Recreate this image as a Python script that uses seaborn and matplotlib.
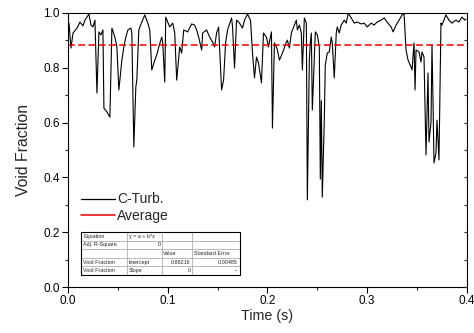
import numpy as np
import pandas as pd
import matplotlib
matplotlib.use("Agg")
import matplotlib.pyplot as plt
from matplotlib.lines import Line2D
from matplotlib.ticker import MultipleLocator
import seaborn as sns

# ---- data ----
time_s = [0.001, 0.003, 0.005, 0.009, 0.012, 0.015, 0.017, 0.021, 0.023, 0.025,
          0.027, 0.029, 0.031, 0.033, 0.035, 0.036, 0.039, 0.042, 0.044, 0.047,
          0.049, 0.051, 0.054, 0.056, 0.058, 0.060, 0.063, 0.064, 0.066, 0.068,
          0.069, 0.071, 0.074, 0.077, 0.080, 0.082, 0.084, 0.087, 0.089, 0.091,
          0.094, 0.095, 0.097, 0.098, 0.100, 0.102, 0.105, 0.107, 0.109, 0.112,
          0.114, 0.116, 0.120, 0.124, 0.127, 0.129, 0.131, 0.134, 0.135, 0.139,
          0.142, 0.145, 0.147, 0.149, 0.151, 0.154, 0.156, 0.158, 0.160, 0.164,
          0.165, 0.167, 0.169, 0.172, 0.175, 0.177, 0.180, 0.183, 0.185, 0.187,
          0.189, 0.191, 0.194, 0.196, 0.199, 0.201, 0.203, 0.204, 0.205, 0.207,
          0.209, 0.210, 0.212, 0.215, 0.219, 0.220, 0.222, 0.224, 0.227, 0.229,
          0.230, 0.232, 0.234, 0.235, 0.237, 0.239, 0.240, 0.242, 0.243, 0.244,
          0.245, 0.248, 0.250, 0.252, 0.253, 0.254, 0.255, 0.257, 0.258, 0.260,
          0.262, 0.264, 0.265, 0.267, 0.269, 0.270, 0.272, 0.274, 0.277, 0.279,
          0.281, 0.284, 0.287, 0.290, 0.294, 0.297, 0.300, 0.304, 0.307, 0.310,
          0.314, 0.317, 0.320, 0.324, 0.326, 0.329, 0.332, 0.335, 0.337, 0.339,
          0.341, 0.344, 0.345, 0.347, 0.348, 0.349, 0.352, 0.354, 0.355, 0.357,
          0.359, 0.361, 0.362, 0.364, 0.365, 0.366, 0.367, 0.369, 0.370, 0.372,
          0.374, 0.375, 0.379, 0.382, 0.385, 0.389, 0.392, 0.395, 0.398, 0.399]
void_fraction = [0.963, 0.872, 0.927, 0.945, 0.967, 0.953, 0.974, 0.996, 0.956, 0.949,
                 0.974, 0.708, 0.931, 0.920, 0.938, 0.653, 0.639, 0.620, 0.945, 0.912,
                 0.876, 0.719, 0.828, 0.876, 0.912, 0.938, 0.945, 0.927, 0.511, 0.730,
                 0.755, 0.938, 0.967, 0.993, 0.963, 0.938, 0.792, 0.828, 0.847, 0.876,
                 0.912, 0.891, 0.748, 0.985, 0.967, 0.949, 0.963, 0.927, 0.755, 0.876,
                 0.854, 0.938, 0.931, 0.960, 0.956, 0.938, 0.912, 0.865, 0.927, 0.938,
                 0.912, 0.894, 0.876, 0.927, 0.949, 0.719, 0.755, 0.891, 0.938, 0.982,
                 0.949, 0.799, 0.974, 0.963, 0.945, 0.974, 0.996, 0.974, 0.854, 0.763,
                 0.839, 0.818, 0.745, 0.927, 0.912, 0.876, 0.912, 0.931, 0.580, 0.891,
                 0.876, 0.865, 0.828, 0.854, 0.894, 0.901, 0.872, 0.927, 0.956, 0.974,
                 0.938, 0.956, 0.927, 0.792, 0.982, 0.963, 0.318, 0.828, 0.891, 0.927,
                 0.646, 0.931, 0.920, 0.876, 0.394, 0.680, 0.328, 0.610, 0.810, 0.854,
                 0.858, 0.912, 0.891, 0.763, 0.927, 0.949, 0.927, 0.956, 0.974, 0.963,
                 1.000, 0.982, 0.963, 0.967, 0.960, 0.963, 0.949, 0.963, 0.956, 0.967,
                 0.974, 0.982, 0.967, 0.949, 0.931, 0.956, 0.974, 0.993, 0.996, 0.865,
                 0.828, 0.803, 0.792, 0.891, 0.719, 0.865, 0.858, 0.821, 0.858, 0.839,
                 0.482, 0.781, 0.529, 0.599, 0.883, 0.682, 0.453, 0.489, 0.609, 0.464,
                 0.963, 0.956, 0.993, 0.974, 0.963, 0.974, 0.967, 0.985, 0.974, 0.978]
avg_time = [0.0, 0.4]
avg_value = [0.88216, 0.88216]

table_rows = [["Equation", "y = a + b*x", "", ""],
              ["Adj. R-Square", "0", "", ""],
              ["", "", "Value", "Standard Error"],
              ["Void Fraction", "Intercept", "0.88216", "0.00485"],
              ["Void Fraction", "Slope", "0", "--"]]

# ---- plotting ----
sns.set_theme(style="white")
plt.rcParams['font.family'] = ['Liberation Sans', 'DejaVu Sans']

fig = plt.figure(figsize=(4.74, 3.33), dpi=100)
ax = fig.add_axes([0.1435, 0.138, 0.8415, 0.823])

df = pd.DataFrame({"t": time_s, "v": void_fraction})
sns.lineplot(data=df, x="t", y="v", ax=ax, color="black", linewidth=0.8,
             estimator=None, sort=False)
dfa = pd.DataFrame({"t": avg_time, "v": avg_value})
sns.lineplot(data=dfa, x="t", y="v", ax=ax, color="#ee0000", linewidth=1.1,
             estimator=None, sort=False, dashes=False)
ax.lines[-1].set_dashes((4.5, 2.2))

ax.set_xlim(0.0, 0.4)
ax.set_ylim(0.0, 1.0)
ax.xaxis.set_major_locator(MultipleLocator(0.1))
ax.xaxis.set_minor_locator(MultipleLocator(0.05))
ax.yaxis.set_major_locator(MultipleLocator(0.2))
ax.yaxis.set_minor_locator(MultipleLocator(0.1))
ax.xaxis.set_major_formatter(matplotlib.ticker.FormatStrFormatter('%.1f'))
ax.yaxis.set_major_formatter(matplotlib.ticker.FormatStrFormatter('%.1f'))
ax.tick_params(which='major', direction='out', length=4.5, width=0.8,
               labelsize=8.5, colors='black', pad=1.5, bottom=True, left=True)
ax.tick_params(which='minor', direction='out', length=2.5, width=0.8,
               bottom=True, left=True)
for s in ax.spines.values():
    s.set_color('black')
    s.set_linewidth(0.8)

ax2 = ax.twinx()
ax2.set_ylim(0, 1)
ax2.yaxis.set_major_locator(MultipleLocator(0.2))
ax2.yaxis.set_minor_locator(MultipleLocator(0.1))
ax2.tick_params(which='both', direction='in', length=2.5, width=0.8,
                labelright=False, right=True)
for s in ax2.spines.values():
    s.set_visible(False)

ax.set_xlabel("Time (s)", fontsize=10.3, labelpad=1.5)
ax.set_ylabel("Void Fraction", fontsize=11.3, labelpad=9)

handles = [Line2D([], [], color='black', linewidth=0.9),
           Line2D([], [], color='#ee0000', linewidth=1.1)]
ax.legend(handles, ["C-Turb.", "Average"], loc='upper left',
          bbox_to_anchor=(0.033, 0.345), frameon=False, fontsize=10,
          handlelength=2.4, handletextpad=0.2, labelspacing=0.15,
          borderpad=0, borderaxespad=0)

tbl = ax.table(cellText=table_rows, bbox=[0.033, 0.044, 0.398, 0.157],
               colWidths=[46, 35, 30, 48], cellLoc='left')
tbl.auto_set_font_size(False)
tbl.set_fontsize(3.9)
right_cells = {(1, 1), (3, 2), (3, 3), (4, 2), (4, 3)}
for (r, c), cell in tbl.get_celld().items():
    cell.set_edgecolor('#aaaaaa')
    cell.set_linewidth(0.5)
    cell.PAD = 0.04
    if (r, c) in right_cells:
        cell._loc = 'right'
        cell.get_text().set_ha('right')
ax.add_patch(plt.Rectangle((0.033, 0.044), 0.398, 0.157, transform=ax.transAxes,
                           fill=False, edgecolor='black', linewidth=0.8, zorder=5))

fig.savefig("out.png", dpi=100)
